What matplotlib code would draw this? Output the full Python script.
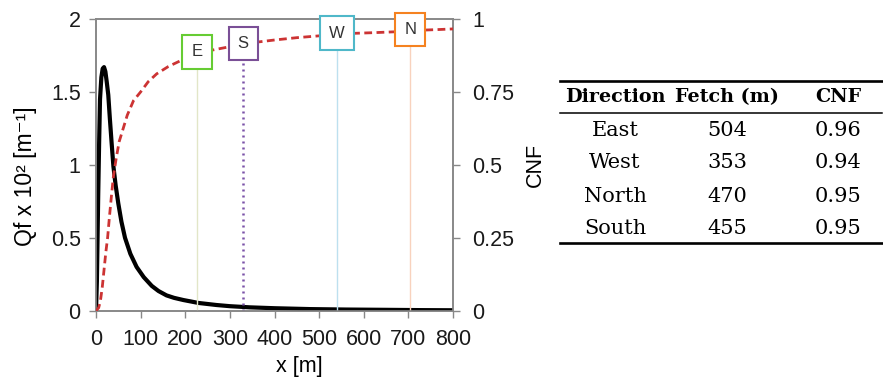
import numpy as np
import matplotlib
matplotlib.use("Agg")
import matplotlib.pyplot as plt
import matplotlib.ticker as mtick

plt.rcParams['font.family'] = ['Liberation Sans', 'DejaVu Sans']

# footprint density Qf (x 10^2, per m)
qf_x = [0, 2, 3.5, 5, 7, 9, 12, 15, 18, 21, 24, 27.5, 31, 35, 39, 44, 50, 57, 65,
        77, 91, 107, 125, 140, 158, 175, 196, 230, 270, 300, 345, 400, 480, 560,
        650, 730, 800]
qf_y = [0, 0.2, 0.5, 0.8, 1.15, 1.45, 1.6, 1.66, 1.67, 1.64, 1.57, 1.48, 1.32,
        1.15, 0.99, 0.86, 0.735, 0.61, 0.5, 0.39, 0.30, 0.23, 0.17, 0.135, 0.105,
        0.088, 0.073, 0.053, 0.039, 0.031, 0.023, 0.017, 0.011, 0.008, 0.006,
        0.004, 0.003]

# cumulative normalised footprint (CNF)
cnf_x = [0, 6, 10, 14, 18, 22, 26, 30, 35, 39, 45, 52, 60, 70, 84, 100, 117, 136,
         162, 188, 226, 259, 293, 330, 362, 400, 450, 498, 540, 580, 620, 668,
         704, 735, 770, 800]
cnf_y = [0, 0.01, 0.035, 0.08, 0.14, 0.2, 0.25, 0.32, 0.40, 0.46, 0.52, 0.58,
         0.62, 0.67, 0.72, 0.75, 0.785, 0.812, 0.837, 0.856, 0.878, 0.893, 0.903,
         0.913, 0.921, 0.928, 0.936, 0.942, 0.947, 0.951, 0.953, 0.956, 0.959,
         0.962, 0.964, 0.966]

# direction markers
marker_labels = ['E', 'S', 'W', 'N']
marker_x = [226, 330, 540, 704]
marker_cnf = [0.887, 0.915, 0.952, 0.963]

# table
tab_header = ['Direction', 'Fetch (m)', 'CNF']
tab_direction = ['East', 'West', 'North', 'South']
tab_fetch = ['504', '353', '470', '455']
tab_cnf = ['0.96', '0.94', '0.95', '0.95']

box_colors = ['#66cc33', '#7a4f96', '#4fb8c9', '#f58220']
line_colors = ['#e2e6c8', '#7a52a8', '#bde0ef', '#f8d2bd']
gray = '#888888'

fig = plt.figure(figsize=(8.83, 3.85), dpi=100)
ax = fig.add_axes([96 / 883, 74.3 / 385, 357 / 883, 291.7 / 385])
ax2 = ax.twinx()

ax.plot(qf_x, qf_y, color='black', lw=3.0, solid_capstyle='round', zorder=3)
ax2.plot(cnf_x, cnf_y, color='#cc3333', lw=2.0, linestyle=(0, (2.8, 1.6)), zorder=3)

for i, (lab, xm, ym) in enumerate(zip(marker_labels, marker_x, marker_cnf)):
    if lab == 'S':
        ax2.plot([xm, xm], [0, ym], color=line_colors[i], lw=1.8,
                 linestyle=(0, (0.8, 1.6)), zorder=2)
    else:
        ax2.plot([xm, xm], [0, ym], color=line_colors[i], lw=1.0, zorder=2)
    ax2.text(xm, ym, lab, ha='center', va='center', fontsize=12, color='#333333',
             zorder=5,
             bbox=dict(boxstyle='square,pad=0.55', fc='white', ec=box_colors[i], lw=1.5))

ax.set_xlim(0, 800)
ax.set_ylim(0, 2)
ax2.set_ylim(0, 1)
ax.set_xticks(np.arange(0, 801, 100))
ax.set_yticks([0, 0.5, 1, 1.5, 2])
ax2.set_yticks([0, 0.25, 0.5, 0.75, 1])
fmt = mtick.FuncFormatter(lambda v, p: f'{v:g}')
ax.yaxis.set_major_formatter(fmt)
ax2.yaxis.set_major_formatter(fmt)

for a in (ax, ax2):
    for s in a.spines.values():
        s.set_color(gray)
        s.set_linewidth(1.2)
    a.tick_params(direction='out', length=5, width=1, color=gray, labelsize=15.5,
                  labelcolor='#1a1a1a')
ax.tick_params(axis='y', pad=6)
ax.tick_params(axis='x', pad=8)
ax2.tick_params(axis='y', pad=9)

ax.set_xlabel('x [m]', fontsize=15.5)
ax.xaxis.set_label_coords(0.57, -0.155)
ax.set_ylabel('Qf x 10² [m⁻¹]', fontsize=16.5)
ax.yaxis.set_label_coords(-0.165, 0.46)
ax2.set_ylabel('CNF', fontsize=15.5)
ax2.yaxis.set_label_coords(1.2, 0.5)

# table drawn in pixel coordinates
tx = fig.add_axes([0, 0, 1, 1], facecolor='none')
tx.set_xlim(0, 883)
tx.set_ylim(385, 0)
tx.axis('off')
tx.plot([560, 882], [81, 81], color='black', lw=1.9)
tx.plot([560, 882], [113, 113], color='black', lw=1.1)
tx.plot([560, 882], [243, 243], color='black', lw=1.9)

col_x = [615, 727, 838]
serif = 'DejaVu Serif'
for cx, h in zip(col_x, tab_header):
    tx.text(cx, 97, h, ha='center', va='center', fontsize=13.8, fontweight='bold',
            family=serif)
row_y = [131, 163, 196, 229]
for ry, d, f, c in zip(row_y, tab_direction, tab_fetch, tab_cnf):
    for cx, t in zip(col_x, (d, f, c)):
        tx.text(cx, ry, t, ha='center', va='center', fontsize=15, family=serif)

fig.savefig('out.png', dpi=100)
